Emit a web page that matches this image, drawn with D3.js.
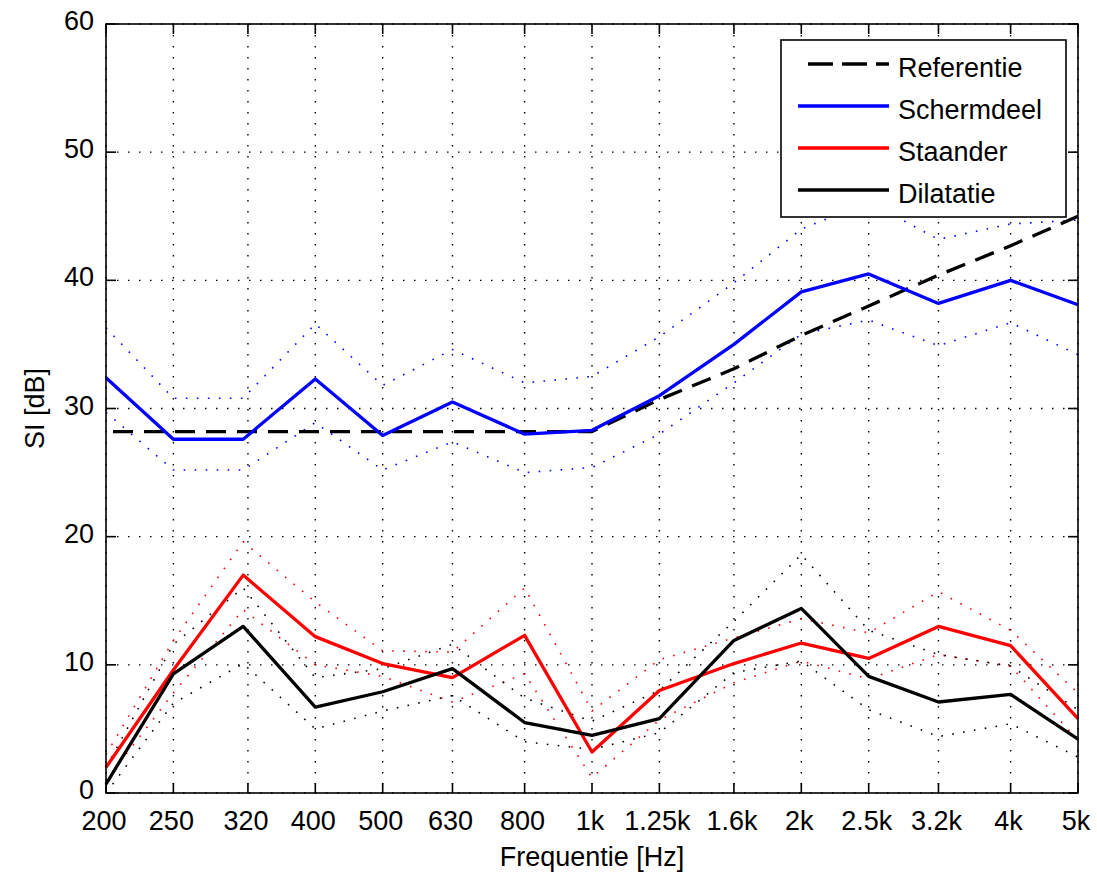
<!DOCTYPE html>
<html>
<head>
<meta charset="utf-8">
<script src="https://cdn.jsdelivr.net/npm/d3@7"></script>
<style>
  html, body { margin: 0; padding: 0; background: #ffffff; }
  text { font-family: "Liberation Sans", Arial, sans-serif; fill: #000; }
</style>
</head>
<body>
<div id="chart"></div>
<script>
// frequencies of the measured bands (x positions on a log axis)
const FREQS = [200, 250, 315, 400, 500, 630, 800, 1000, 1250, 1600, 2000, 2500, 3150, 4000, 5000];
const TICK_VALUES = [200, 250, 320, 400, 500, 630, 800, 1000, 1250, 1600, 2000, 2500, 3150, 4000, 5000];
const TICK_LABELS = ["200", "250", "320", "400", "500", "630", "800", "1k", "1.25k", "1.6k", "2k", "2.5k", "3.2k", "4k", "5k"];
const Y_TICKS = [0, 10, 20, 30, 40, 50, 60];

const REFERENTIE   = [28.2, 28.2, 28.2, 28.2, 28.2, 28.2, 28.2, 28.2, 30.7, 33.1, 35.7, 38.0, 40.4, 42.7, 45.0];

const SCHERMDEEL    = [32.4, 27.6, 27.6, 32.3, 27.9, 30.5, 28.0, 28.3, 31.0, 35.0, 39.1, 40.5, 38.2, 40.0, 38.1];
const SCHERMDEEL_HI = [36.3, 30.8, 30.8, 36.6, 31.8, 34.6, 32.0, 32.5, 35.6, 39.8, 44.0, 46.1, 43.2, 44.4, 44.7];
const SCHERMDEEL_LO = [29.7, 25.2, 25.2, 28.9, 25.2, 27.4, 25.0, 25.4, 28.0, 32.0, 35.8, 36.9, 34.9, 36.7, 34.2];

const STAANDER    = [2.0, 9.6, 17.0, 12.2, 10.1, 9.0, 12.3, 3.2, 8.0, 10.1, 11.7, 10.5, 13.0, 11.5, 5.8];
const STAANDER_HI = [3.0, 11.9, 19.6, 14.9, 11.1, 11.0, 16.0, 6.4, 10.4, 12.1, 13.6, 12.5, 15.7, 12.7, 7.8];
const STAANDER_LO = [1.0, 7.8, 14.3, 10.0, 9.1, 7.1, 9.3, 1.2, 5.7, 8.6, 10.3, 8.9, 10.8, 9.9, 4.1];

const DILATATIE    = [0.7, 9.3, 13.0, 6.7, 7.9, 9.7, 5.5, 4.5, 5.8, 11.9, 14.4, 9.1, 7.1, 7.7, 4.2];
const DILATATIE_HI = [2.0, 11.6, 16.0, 9.0, 9.7, 11.6, 7.4, 5.6, 8.0, 13.4, 18.6, 12.7, 10.8, 9.9, 6.5];
const DILATATIE_LO = [0.0, 7.0, 10.1, 5.0, 6.4, 7.6, 4.0, 3.4, 4.7, 9.4, 10.3, 6.5, 4.4, 5.4, 2.8];

const SERIES = [
  { name: "Referentie", values: REFERENTIE, color: "#000000", dash: "20,11" },
  { name: "Schermdeel", values: SCHERMDEEL, hi: SCHERMDEEL_HI, lo: SCHERMDEEL_LO, color: "#0000ff" },
  { name: "Staander", values: STAANDER, hi: STAANDER_HI, lo: STAANDER_LO, color: "#ff0000" },
  { name: "Dilatatie", values: DILATATIE, hi: DILATATIE_HI, lo: DILATATIE_LO, color: "#000000" }
];

const width = 1097, height = 873;
const margin = { top: 24, right: 19, bottom: 80, left: 106 };
const innerW = width - margin.left - margin.right;
const innerH = height - margin.top - margin.bottom;

const svg = d3.select("#chart").append("svg")
  .attr("width", width).attr("height", height)
  .style("display", "block")
  .style("background", "#fff");

const x = d3.scaleLog().domain([200, 5000]).range([0, innerW]);
const y = d3.scaleLinear().domain([0, 60]).range([innerH, 0]);

const g = svg.append("g").attr("transform", `translate(${margin.left},${margin.top})`);

// dotted grid
g.append("g").selectAll("line")
  .data(TICK_VALUES)
  .join("line")
  .attr("x1", d => x(d)).attr("x2", d => x(d))
  .attr("y1", 0).attr("y2", innerH)
  .attr("stroke", "#000").attr("stroke-width", 1.4)
  .attr("stroke-dasharray", "1.5,9.5");

g.append("g").selectAll("line")
  .data(Y_TICKS)
  .join("line")
  .attr("x1", 0).attr("x2", innerW)
  .attr("y1", d => y(d)).attr("y2", d => y(d))
  .attr("stroke", "#000").attr("stroke-width", 1.4)
  .attr("stroke-dasharray", "1.5,9.5");

const line = d3.line()
  .x((d, i) => x(FREQS[i]))
  .y(d => y(d));

// dotted spread bands
SERIES.filter(s => s.hi).forEach(s => {
  [s.hi, s.lo].forEach(vals => {
    g.append("path")
      .datum(vals)
      .attr("d", line)
      .attr("fill", "none")
      .attr("stroke", s.color)
      .attr("stroke-width", 1.6)
      .attr("stroke-dasharray", "1.6,9.4");
  });
});

// main lines
SERIES.forEach(s => {
  g.append("path")
    .datum(s.values)
    .attr("d", line)
    .attr("fill", "none")
    .attr("stroke", s.color)
    .attr("stroke-width", 3.3)
    .attr("stroke-linejoin", "round")
    .attr("stroke-dasharray", s.dash || null)
    .attr("stroke-dashoffset", s.dash ? 24 : null);
});

// axes box with inward ticks
const box = g.append("g");
box.append("rect")
  .attr("x", 0).attr("y", 0).attr("width", innerW).attr("height", innerH)
  .attr("fill", "none").attr("stroke", "#000").attr("stroke-width", 1.6);

const tickLen = 10;
box.selectAll("line.xt")
  .data(TICK_VALUES)
  .join("line")
  .attr("class", "xt")
  .attr("x1", d => x(d)).attr("x2", d => x(d))
  .attr("y1", innerH).attr("y2", innerH - tickLen)
  .attr("stroke", "#000").attr("stroke-width", 1.6);
box.selectAll("line.xt2")
  .data(TICK_VALUES)
  .join("line")
  .attr("class", "xt2")
  .attr("x1", d => x(d)).attr("x2", d => x(d))
  .attr("y1", 0).attr("y2", tickLen)
  .attr("stroke", "#000").attr("stroke-width", 1.6);
box.selectAll("line.yt")
  .data(Y_TICKS)
  .join("line")
  .attr("class", "yt")
  .attr("x1", 0).attr("x2", tickLen)
  .attr("y1", d => y(d)).attr("y2", d => y(d))
  .attr("stroke", "#000").attr("stroke-width", 1.6);
box.selectAll("line.yt2")
  .data(Y_TICKS)
  .join("line")
  .attr("class", "yt2")
  .attr("x1", innerW).attr("x2", innerW - tickLen)
  .attr("y1", d => y(d)).attr("y2", d => y(d))
  .attr("stroke", "#000").attr("stroke-width", 1.6);

// tick labels
g.append("g").selectAll("text")
  .data(TICK_VALUES)
  .join("text")
  .attr("x", d => x(d) - 2)
  .attr("y", innerH + 37)
  .attr("text-anchor", "middle")
  .style("font-size", "27px")
  .text((d, i) => TICK_LABELS[i]);

g.append("g").selectAll("text")
  .data(Y_TICKS)
  .join("text")
  .attr("x", -12)
  .attr("y", d => y(d) + 6)
  .attr("text-anchor", "end")
  .style("font-size", "27px")
  .text(d => d);

// axis titles
svg.append("text")
  .attr("x", margin.left + innerW / 2)
  .attr("y", 866)
  .attr("text-anchor", "middle")
  .style("font-size", "27px")
  .text("Frequentie [Hz]");

svg.append("text")
  .attr("transform", `translate(44,${margin.top + innerH / 2}) rotate(-90)`)
  .attr("text-anchor", "middle")
  .style("font-size", "27px")
  .text("SI [dB]");

// legend
const legend = svg.append("g").attr("transform", "translate(781,40)");
legend.append("rect")
  .attr("width", 285).attr("height", 177)
  .attr("fill", "#fff").attr("stroke", "#000").attr("stroke-width", 1.6);

const rows = legend.selectAll("g.entry")
  .data(SERIES)
  .join("g")
  .attr("class", "entry")
  .attr("transform", (d, i) => `translate(0,${24 + i * 42})`);

rows.append("line")
  .attr("x1", d => d.dash ? 27 : 17).attr("x2", 108)
  .attr("y1", 0).attr("y2", 0)
  .attr("stroke", d => d.color)
  .attr("stroke-width", 3.3)
  .attr("stroke-dasharray", d => d.dash ? "25,9" : null);

rows.append("text")
  .attr("x", 117)
  .attr("y", 13)
  .style("font-size", "27px")
  .text(d => d.name);
</script>
</body>
</html>
